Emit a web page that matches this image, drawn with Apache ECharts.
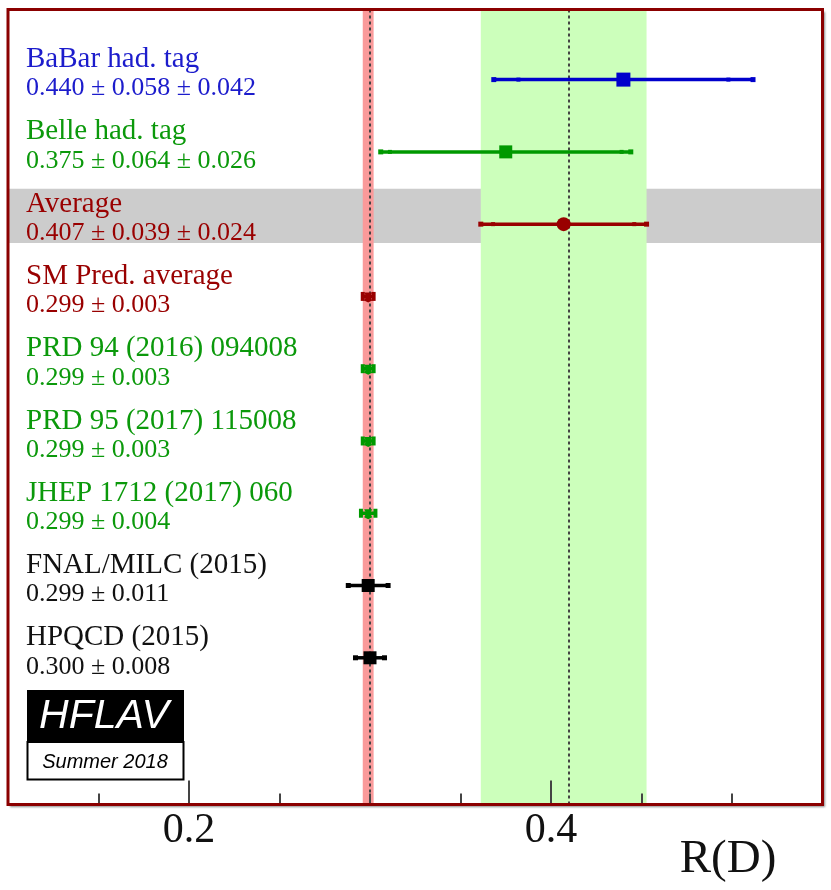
<!DOCTYPE html>
<html>
<head>
<meta charset="utf-8">
<script src="https://cdn.jsdelivr.net/npm/echarts@6/dist/echarts.min.js"></script>
<style>html,body{margin:0;padding:0;background:#fff;}#c{width:831px;height:890px;}</style>
</head>
<body>
<div id="c"></div>
<script>
// ---- data ----
const names = ['BaBar had. tag', 'Belle had. tag', 'Average', 'SM Pred. average',
  'PRD 94 (2016) 094008', 'PRD 95 (2017) 115008', 'JHEP 1712 (2017) 060',
  'FNAL/MILC (2015)', 'HPQCD (2015)'];
const centralValues = [0.440, 0.375, 0.407, 0.299, 0.299, 0.299, 0.299, 0.299, 0.300];
const statErrors = [0.058, 0.064, 0.039, 0.003, 0.003, 0.003, 0.004, 0.011, 0.008];
const systErrors = [0.042, 0.026, 0.024, 0, 0, 0, 0, 0, 0];
const averageValue = 0.407;
const averageStat = 0.039;
const averageSyst = 0.024;
const smValue = 0.299;
const smErr = 0.003;
const majorTickValues = [0.2, 0.4];
const axisTitle = 'R(D)';

// ---- styles ----
const rowColors = ['#0000cc', '#009900', '#990000', '#990000', '#009900', '#009900', '#009900', '#000000', '#000000'];
const textColors = ['#1c1ccc', '#0b990b', '#990000', '#990000', '#0b990b', '#0b990b', '#0b990b', '#111111', '#111111'];
const markerKinds = ['bigsq', 'sq', 'circle', 'tiny', 'tiny', 'tiny', 'tiny', 'blk', 'blk'];
const SERIF = 'Liberation Serif';
const Y_MIN = -0.97, Y_MAX = 10.03, GRID_H = 795;
const MAJOR_TICK_LEN = 24 * (Y_MAX - Y_MIN) / GRID_H;

function fmt(i) {
  let s = centralValues[i].toFixed(3) + ' \u00b1 ' + statErrors[i].toFixed(3);
  if (systErrors[i]) s += ' \u00b1 ' + systErrors[i].toFixed(3);
  return s;
}

const rowData = names.map((n, i) => [centralValues[i], i, statErrors[i], systErrors[i]]);
const avgTot = Math.sqrt(averageStat * averageStat + averageSyst * averageSyst);
const isMajor = v => majorTickValues.some(m => Math.abs(m - v) < 1e-9);

function renderItem(params, api) {
  const i = params.dataIndex;
  const v = api.value(0), row = api.value(1), st = api.value(2), sy = api.value(3);
  const tot = sy ? Math.sqrt(st * st + sy * sy) : st;
  const p = api.coord([v, row]);
  const lo = api.coord([v - tot, row]);
  const hi = api.coord([v + tot, row]);
  const c = rowColors[i];
  const kind = markerKinds[i];
  const ch = [];
  ch.push({type: 'line', shape: {x1: lo[0], y1: p[1], x2: hi[0], y2: p[1]},
    style: {stroke: c, lineWidth: 3.5}});
  if (kind === 'tiny') {
    [lo[0], hi[0]].forEach(x => ch.push({type: 'rect', shape: {x: x - 2, y: p[1] - 4.5, width: 4, height: 9}, style: {fill: c}}));
    ch.push({type: 'polygon', shape: {points: [[p[0] - 4, p[1] - 4], [p[0] + 4, p[1] - 4], [p[0] + 2, p[1]], [p[0] + 4, p[1] + 4], [p[0], p[1] + 6], [p[0] - 4, p[1] + 4], [p[0] - 2, p[1]]]}, style: {fill: c}});
  } else {
    [lo[0], hi[0]].forEach(x => ch.push({type: 'rect', shape: {x: x - 2.5, y: p[1] - 2.5, width: 5, height: 5}, style: {fill: c}}));
    if (sy) {
      const sl = api.coord([v - st, row]), sh = api.coord([v + st, row]);
      [sl[0], sh[0]].forEach(x => ch.push({type: 'rect', shape: {x: x - 2, y: p[1] - 2, width: 4, height: 4}, style: {fill: c}}));
    }
    if (kind === 'circle') {
      ch.push({type: 'circle', shape: {cx: p[0], cy: p[1], r: 7}, style: {fill: c}});
    } else {
      const s = kind === 'bigsq' ? 14 : 13;
      ch.push({type: 'rect', shape: {x: p[0] - s / 2, y: p[1] - s / 2, width: s, height: s}, style: {fill: c}});
    }
  }
  ch.push({type: 'text', x: 26, y: p[1] - 20, style: {text: names[i], fill: textColors[i],
    font: '29px "' + SERIF + '"', verticalAlign: 'middle', align: 'left'}});
  ch.push({type: 'text', x: 26, y: p[1] + 9, style: {text: fmt(i), fill: textColors[i],
    font: '26px "' + SERIF + '"', verticalAlign: 'middle', align: 'left'}});
  return {type: 'group', children: ch};
}

const chart = echarts.init(document.getElementById('c'), null, {renderer: 'canvas'});
const option = {
  animation: false,
  backgroundColor: '#ffffff',
  grid: {left: 8, right: 8.5, top: 9.5, bottom: 85.5, show: true, backgroundColor: '#ffffff',
    borderWidth: 0, shadowColor: 'rgba(0,0,0,0.45)', shadowBlur: 2, shadowOffsetX: 2, shadowOffsetY: 2},
  xAxis: {
    type: 'value', min: 0.1, max: 0.55, interval: 0.05, position: 'bottom', z: 10,
    axisLine: {show: false, onZero: false}, splitLine: {show: false},
    axisTick: {show: true, inside: true, length: 11, lineStyle: {color: '#444', width: 2}},
    axisLabel: {show: true, margin: 5, fontFamily: SERIF, fontSize: 42, color: '#111',
      showMinLabel: false, showMaxLabel: false,
      formatter: v => isMajor(v) ? v.toFixed(1) : ''}
  },
  yAxis: {type: 'value', min: Y_MIN, max: Y_MAX, inverse: true, show: false, splitLine: {show: false},
    axisLine: {onZero: false}},
  series: [
    {
      type: 'line', data: [], z: 1, silent: true,
      markArea: {silent: true, data: [
        [{xAxis: 0.1, yAxis: 1.51, itemStyle: {color: '#cccccc'}}, {xAxis: 0.55, yAxis: 2.26}],
        [{xAxis: averageValue - avgTot, yAxis: Y_MIN, itemStyle: {color: '#ccffbb'}}, {xAxis: averageValue + avgTot, yAxis: Y_MAX}],
        [{xAxis: smValue - smErr, yAxis: Y_MIN, itemStyle: {color: '#fa9a9a'}}, {xAxis: smValue + smErr, yAxis: Y_MAX}]
      ]}
    },
    {
      type: 'line', data: [], z: 2, silent: true,
      markLine: {silent: true, symbol: 'none', label: {show: false},
        lineStyle: {color: '#444', width: 2, type: [3, 3]},
        data: [{xAxis: averageValue}, {xAxis: smValue}]}
    },
    {
      type: 'line', data: [], z: 11, silent: true,
      markLine: {silent: true, symbol: 'none', label: {show: false},
        lineStyle: {color: '#444', width: 2, type: 'solid'},
        data: majorTickValues.map(m => [{coord: [m, Y_MAX]}, {coord: [m, Y_MAX - MAJOR_TICK_LEN]}])}
    },
    {
      type: 'custom', z: 5, coordinateSystem: 'cartesian2d',
      renderItem: renderItem, data: rowData, clip: false
    }
  ],
  graphic: [
    {type: 'rect', z: 100, shape: {x: 8, y: 9.5, width: 814.5, height: 795}, style: {fill: null, stroke: '#8b0000', lineWidth: 3}},
    {type: 'group', z: 3, children: [
      {type: 'rect', z: 3, shape: {x: 27, y: 690, width: 157, height: 52}, style: {fill: '#000'}},
      {type: 'rect', z: 3, shape: {x: 27.5, y: 742, width: 156, height: 37.5}, style: {fill: '#fff', stroke: '#000', lineWidth: 2}},
      {type: 'text', z: 4, x: 104, y: 717, style: {text: 'HFLAV', fill: '#fff', font: 'italic 41px "Liberation Sans"', align: 'center', verticalAlign: 'middle'}},
      {type: 'text', z: 4, x: 105, y: 762, style: {text: 'Summer 2018', fill: '#000', font: 'italic 20px "Liberation Sans"', align: 'center', verticalAlign: 'middle'}}
    ]},
    {type: 'text', z: 51, x: 728, y: 860, style: {text: axisTitle, fill: '#111', font: '47px "' + SERIF + '"', align: 'center', verticalAlign: 'middle'}}
  ]
};
chart.setOption(option);
</script>
</body>
</html>
